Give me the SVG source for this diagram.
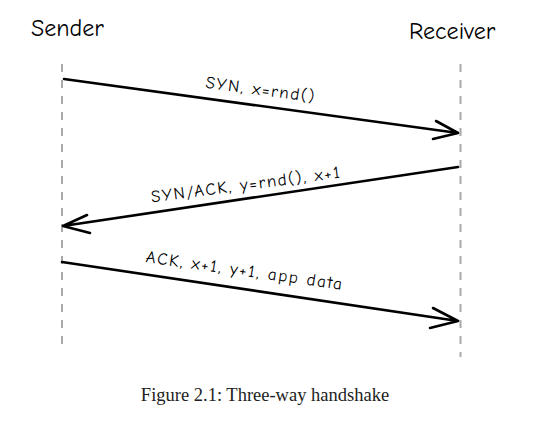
<svg xmlns="http://www.w3.org/2000/svg" width="546" height="427" viewBox="0 0 546 427">
<defs>
<style>
.life{stroke:#a9a9ab;stroke-width:2;stroke-dasharray:8 8;fill:none}
.msg{stroke:#000;stroke-width:2.6;fill:none;stroke-linecap:round;stroke-linejoin:round}
.actor{font-family:"Comic Neue","Liberation Sans","DejaVu Sans",sans-serif;font-size:24px;fill:#000}
.lbl{font-family:"Comic Neue","Liberation Sans","DejaVu Sans",sans-serif;font-size:17px;letter-spacing:1.6px;fill:#000;text-anchor:middle}
.cap{font-family:"Liberation Serif","DejaVu Serif",serif;font-size:18.5px;fill:#222;text-anchor:middle}
</style>
</defs>
<rect width="546" height="427" fill="#fff"/>
<g id="sender">
<text class="actor" x="31" y="36">Sender</text>
<line class="life" x1="62" y1="64" x2="62" y2="350"/>
</g>
<g id="receiver">
<text class="actor" x="409" y="39">Receiver</text>
<line class="life" x1="460.5" y1="64" x2="460.5" y2="357"/>
</g>
<g id="connectors">
<g id="m1">
<path class="msg" d="M64 79 L458 133 M436 121 L458 133 L433 139"/>
<text class="lbl" transform="translate(260 95) rotate(7.5)">SYN, x=rnd()</text>
</g>
<g id="m2">
<path class="msg" d="M458 167 L63 226 M87 215 L63 226 L90 233"/>
<text class="lbl" transform="translate(247 190) rotate(-7.5)">SYN/ACK, y=rnd(), x+1</text>
</g>
<g id="m3">
<path class="msg" d="M62 262 L458 321 M433 308 L458 321 L430 328"/>
<text class="lbl" transform="translate(244 276) rotate(8)">ACK, x+1, y+1, app data</text>
</g>
</g>
<text class="cap" x="265" y="401">Figure 2.1: Three-way handshake</text>
</svg>
